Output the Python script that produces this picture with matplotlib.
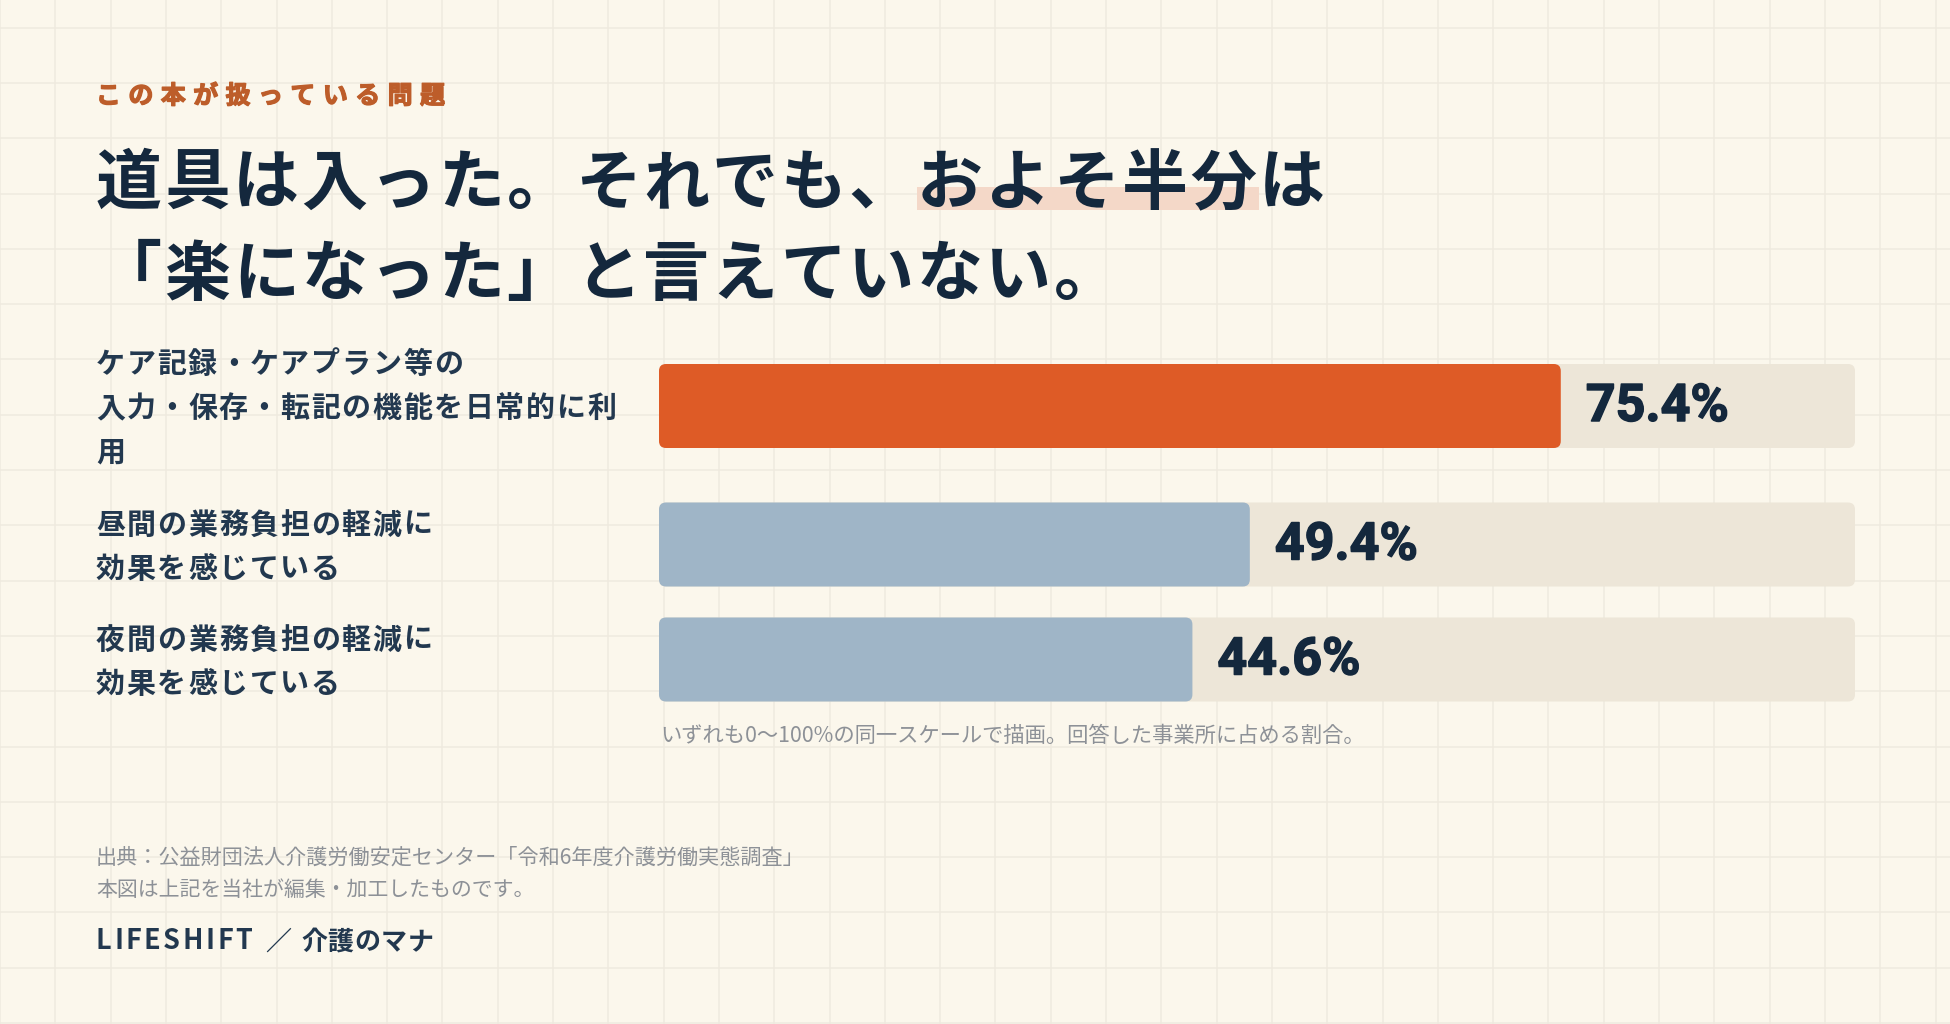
import matplotlib
matplotlib.use('Agg')
import matplotlib.pyplot as plt
import matplotlib.patheffects as pe
from matplotlib.patches import FancyBboxPatch, Rectangle
from matplotlib.transforms import offset_copy

plt.rcParams['font.family'] = ['Noto Sans CJK JP', 'DejaVu Sans']

# ---- data ----
kicker = 'この本が扱っている問題'
titleLines = ['道具は入った。それでも、およそ半分は', '「楽になった」と言えていない。']
highlightChars = (12, 17)  # およそ半分
labels = [
    ['ケア記録・ケアプラン等の', '入力・保存・転記の機能を日常的に利', '用'],
    ['昼間の業務負担の軽減に', '効果を感じている'],
    ['夜間の業務負担の軽減に', '効果を感じている'],
]
values = [75.4, 49.4, 44.6]
valueLabels = ['75.4%', '49.4%', '44.6%']
note = 'いずれも0〜100%の同一スケールで描画。回答した事業所に占める割合。'
sourceLines = ['出典：公益財団法人介護労働安定センター「令和6年度介護労働実態調査」',
               '本図は上記を当社が編集・加工したものです。']
brand = 'LIFESHIFT'
brandSub = '介護のマナ'

# ---- colours ----
BG = '#FBF7EC'
GRID = '#EFEADF'
TRACK = '#EDE6D8'
ORANGE = '#DE5B26'
BLUE = '#9FB5C7'
NAVY = '#14283D'
LABEL = '#22384F'
KICKER = '#BD5D2A'
GRAY = '#8D9197'
HIGHLIGHT = '#F4D8C8'
barColors = [ORANGE, BLUE, BLUE]

W, H, DPI = 1950, 1024, 100


def pt(px):
    return px * 72.0 / DPI


def heavy(color, w=1.2):
    # thicken glyphs a little: the reference uses heavier weights than installed
    return [pe.withStroke(linewidth=pt(w), foreground=color)]


def spacedText(ax, x, baseline, s, sizePx, advance, **kw):
    # full-width text placed glyph by glyph (fixed advance = letter spacing)
    for i, ch in enumerate(s):
        ax.text(x + i * advance, baseline, ch, fontsize=pt(sizePx), va='baseline', ha='left', **kw)


fig = plt.figure(figsize=(W / DPI, H / DPI), dpi=DPI)
fig.patch.set_facecolor(BG)

# background axes in pixel units
bg = fig.add_axes([0, 0, 1, 1])
bg.set_xlim(0, W)
bg.set_ylim(H, 0)
bg.axis('off')

step = 55.3
k = 0
while k * step < W:
    bg.axvline(k * step, color=GRID, lw=pt(1.5), zorder=0)
    k += 1
k = 0
while (k + 0.5) * step < H:
    bg.axhline((k + 0.5) * step, color=GRID, lw=pt(1.5), zorder=0)
    k += 1

# kicker and title
spacedText(bg, 96, 94 + 0.38 * 25, kicker, 25, 32.4, color=KICKER, fontweight='bold',
           path_effects=heavy(KICKER, 1.3))

titleAdv = 68.4
bg.add_patch(Rectangle((96 + highlightChars[0] * titleAdv, 187),
                       (highlightChars[1] - highlightChars[0]) * titleAdv, 23,
                       color=HIGHLIGHT, lw=0, zorder=1))
for line, yc in zip(titleLines, [179, 270]):
    spacedText(bg, 96, yc + 0.38 * 66, line, 66, titleAdv, color=NAVY, fontweight='bold', zorder=3)

# bar area
rowCenters = [406, 544.5, 659.5]
barH = 84
x0, x1 = 659, 1855
ax = fig.add_axes([x0 / W, 0, (x1 - x0) / W, 1])
ax.set_xlim(0, 100)
ax.set_ylim(H, 0)
ax.axis('off')
pxPerX = (x1 - x0) / 100.0


def roundBars(bars, color, radius=7):
    for b in bars:
        b.set_visible(False)
        ax.add_patch(FancyBboxPatch((b.get_x(), b.get_y()), b.get_width(), b.get_height(),
                                    boxstyle='round,pad=0,rounding_size=%f' % (radius / pxPerX),
                                    mutation_aspect=pxPerX, fc=color, ec='none', zorder=2))


tracks = ax.barh(rowCenters, [100] * len(values), height=barH)
roundBars(tracks, TRACK)
for yc, v, c in zip(rowCenters, values, barColors):
    roundBars(ax.barh([yc], [v], height=barH), c)

valTrans = offset_copy(ax.transData, fig=fig, x=25, y=0, units='dots')
for yc, v, lab in zip(rowCenters, values, valueLabels):
    ax.text(v, yc + 1, lab, transform=valTrans, fontsize=pt(52), fontweight='bold',
            family=['Roboto', 'DejaVu Sans'], color=NAVY, va='center', ha='left', zorder=4,
            path_effects=heavy(NAVY, 1.5))

# category labels
lineGap = 44
for lines, yc in zip(labels, rowCenters):
    n = len(lines)
    for i, line in enumerate(lines):
        y = yc + (i - (n - 1) / 2.0) * lineGap
        spacedText(bg, 96, y + 0.38 * 29, line, 29, 30.7, color=LABEL, fontweight='bold')

# note, source, brand
bg.text(660, 736, note, fontsize=pt(21.3), color=GRAY, va='center', ha='left')
for line, y, s in zip(sourceLines, [858, 890], [21.1, 20.9]):
    bg.text(96, y, line, fontsize=pt(s), color=GRAY, va='center', ha='left')

renderer = fig.canvas.get_renderer()
x = 96
for ch in brand:
    t = bg.text(x, 940 + 0.36 * 26, ch, fontsize=pt(27), fontweight='bold', color=LABEL,
                va='baseline', ha='left')
    x += t.get_window_extent(renderer).width + 2.5
bg.text(265, 940 + 0.36 * 26, '／', fontsize=pt(26), fontweight='bold', color=LABEL, va='baseline', ha='left')
spacedText(bg, 301, 940 + 0.38 * 26, brandSub, 26, 26.6, color=LABEL, fontweight='bold')

fig.savefig('out.png', dpi=DPI, facecolor=BG)
